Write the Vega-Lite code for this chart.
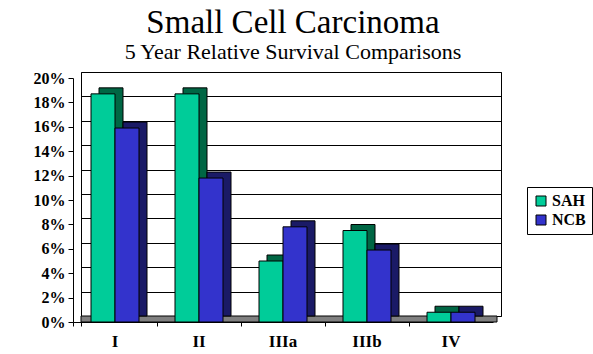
{
  "$schema": "https://vega.github.io/schema/vega-lite/v6.json",
  "width": 420,
  "height": 244,
  "autosize": "none",
  "padding": {"left": 81, "top": 72, "right": 92, "bottom": 38},
  "background": "white",
  "title": {
    "text": "Small Cell Carcinoma",
    "subtitle": "5 Year Relative Survival Comparisons",
    "font": "Liberation Serif",
    "fontSize": 33,
    "fontWeight": "normal",
    "color": "black",
    "subtitleFont": "Liberation Serif",
    "subtitleFontSize": 22,
    "subtitleColor": "black",
    "subtitlePadding": 2,
    "anchor": "middle",
    "offset": 7,
    "dx": 2
  },
  "data": {
    "values": [
      {"stage": "I", "series": "SAH", "value": 18.7},
      {"stage": "I", "series": "NCB", "value": 15.9},
      {"stage": "II", "series": "SAH", "value": 18.7},
      {"stage": "II", "series": "NCB", "value": 11.8},
      {"stage": "IIIa", "series": "SAH", "value": 5.0},
      {"stage": "IIIa", "series": "NCB", "value": 7.8},
      {"stage": "IIIb", "series": "SAH", "value": 7.5},
      {"stage": "IIIb", "series": "NCB", "value": 5.9},
      {"stage": "IV", "series": "SAH", "value": 0.8},
      {"stage": "IV", "series": "NCB", "value": 0.8}
    ]
  },
  "config": {
    "font": "Liberation Serif",
    "view": {"stroke": "black", "strokeWidth": 1, "fill": "white"}
  },
  "resolve": {
    "scale": {"x": "independent", "y": "independent", "xOffset": "independent"},
    "axis": {"x": "independent", "y": "independent"}
  },
  "layer": [
    {
      "data": {"values": [{"floor": 0}]},
      "mark": {"type": "rect", "fill": "#808080", "stroke": "black", "strokeWidth": 1, "xOffset": -4, "x2Offset": -4, "y2Offset": 6},
      "encoding": {
        "y": {"datum": 0, "type": "quantitative", "scale": {"domain": [0, 20]}, "axis": null},
        "y2": {"datum": 0}
      }
    },
    {
      "mark": {"type": "bar", "stroke": "black", "strokeWidth": 1},
      "encoding": {
        "x": {"field": "stage", "type": "nominal", "sort": ["I", "II", "IIIa", "IIIb", "IV"], "scale": {"paddingInner": 0, "paddingOuter": 0}, "axis": null},
        "xOffset": {"field": "series", "type": "nominal", "sort": ["SAH", "NCB"], "scale": {"paddingInner": 0, "paddingOuter": 0.75}},
        "y": {
          "field": "value", "type": "quantitative",
          "scale": {"domain": [0, 20]},
          "axis": {"orient": "left", "grid": true, "gridColor": "black", "gridOpacity": 1, "gridWidth": 1, "labels": false, "ticks": false, "domain": false, "title": null, "values": [0, 2, 4, 6, 8, 10, 12, 14, 16, 18, 20]}
        },
        "fill": {"condition": {"test": "datum.series === 'SAH'", "value": "#006644"}, "value": "#1A1A66"}
      }
    },
    {
      "mark": {"type": "bar", "stroke": "black", "strokeWidth": 1},
      "encoding": {
        "x": {
          "field": "stage", "type": "nominal", "sort": ["I", "II", "IIIa", "IIIb", "IV"],
          "scale": {"paddingInner": 0, "paddingOuter": 0, "range": [-8, 412]},
          "axis": {"orient": "bottom", "title": null, "offset": 6, "labelAngle": 0, "labelFont": "Liberation Serif", "labelFontWeight": "bold", "labelFontSize": 17, "labelColor": "black", "labelPadding": 7, "tickSize": 4, "tickColor": "black", "domainColor": "black", "bandPosition": 0, "tickExtra": true, "grid": false}
        },
        "xOffset": {"field": "series", "type": "nominal", "sort": ["SAH", "NCB"], "scale": {"paddingInner": 0, "paddingOuter": 0.75}},
        "y": {
          "field": "value", "type": "quantitative",
          "scale": {"domain": [0, 20], "range": [250, 6]},
          "axis": {"orient": "left", "offset": 8, "grid": false, "title": null, "values": [0, 2, 4, 6, 8, 10, 12, 14, 16, 18, 20], "labelExpr": "datum.value + '%'", "labelFont": "Liberation Serif", "labelFontWeight": "bold", "labelFontSize": 16, "labelColor": "black", "labelPadding": 3, "tickSize": 5, "tickColor": "black", "domainColor": "black"}
        },
        "fill": {
          "field": "series", "type": "nominal",
          "scale": {"domain": ["SAH", "NCB"], "range": ["#00CC99", "#3333CC"]},
          "legend": {"orient": "none", "legendX": 446, "legendY": 115, "title": null, "symbolType": "square", "symbolSize": 100, "symbolStrokeColor": "black", "symbolStrokeWidth": 1, "labelFont": "Liberation Serif", "labelFontWeight": "bold", "labelFontSize": 16, "labelColor": "black", "labelOffset": 3, "strokeColor": "black", "fillColor": "white", "padding": 6, "rowPadding": 3}
        }
      }
    }
  ]
}
